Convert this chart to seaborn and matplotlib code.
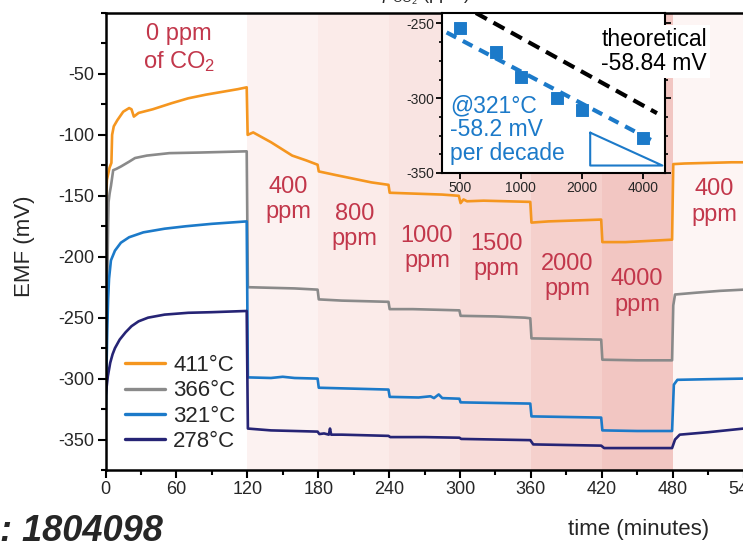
import numpy as np
import pandas as pd
import matplotlib
matplotlib.use("Agg")
import matplotlib.pyplot as plt
import seaborn as sns
from matplotlib.ticker import MultipleLocator, FixedLocator, NullLocator, NullFormatter

# EMF traces: (time in minutes, EMF in mV)
trace_411 = [(0, -235), (0.3, -175), (0.6, -150), (1.2, -137), (3.4, -127), (5, -123), (5.6, -100),
             (7, -93), (10, -88), (15, -81), (20, -78), (22, -79), (24, -85), (28, -82), (40, -79),
             (56, -74), (70, -70), (85, -67), (100, -64.5), (112, -62.5), (119.5, -61),
             (120.3, -100), (125, -98), (140, -106), (158, -117), (170, -121), (179.5, -124.5),
             (180.5, -130), (195, -133), (210, -136), (225, -139), (239.5, -141), (240.5, -147.5),
             (255, -148), (270, -148.5), (285, -149), (299, -150), (300.5, -156), (303, -153),
             (306, -154.5), (320, -154), (340, -154.5), (359.5, -155), (360.5, -172), (375, -171),
             (390, -170.5), (405, -170), (419.5, -169.5), (420.5, -188), (440, -188), (460, -187),
             (479.5, -186), (480.5, -124), (490, -123.5), (510, -123), (530, -122.5), (560, -122.5)]
trace_366 = [(0, -310), (0.5, -285), (1, -255), (1.6, -215), (2.2, -175), (2.6, -155), (3.5, -148),
             (4.6, -142), (6.5, -129), (9, -128), (13, -126), (20, -122), (25, -119), (35, -117),
             (54, -115), (80, -114.5), (100, -114), (119.5, -113.5),
             (120.5, -225), (140, -225.5), (160, -226), (179.5, -227), (180.5, -235), (200, -236),
             (220, -236.5), (239.5, -237), (240.5, -243), (260, -243), (280, -243.5), (299.5, -244),
             (300.5, -248.5), (330, -249), (355, -250), (359.5, -250.5), (360.5, -267), (390, -267.5),
             (419.5, -268), (420.5, -284.5), (450, -285), (479.5, -285), (480.5, -240), (482, -231),
             (500, -229.5), (520, -228), (540, -227), (560, -227)]
trace_321 = [(0, -343), (0.4, -320), (0.9, -290), (1.5, -260), (2.2, -235), (3, -218), (4.6, -203),
             (8, -195), (13, -188.5), (20, -184), (32, -180), (50, -177), (68, -175), (90, -173),
             (119.5, -171),
             (120.5, -299), (140, -299.5), (150, -298.5), (160, -299.5), (179.5, -300), (180.5, -307.5),
             (200, -308), (220, -308.5), (239.5, -309), (240.5, -315), (265, -315.5), (275, -314.5),
             (278, -316), (282, -313), (285, -316), (299.5, -316.5), (300.5, -319.5), (330, -320),
             (359.5, -320.5), (360.5, -331), (390, -331.5), (419.5, -332), (420.5, -342.5), (450, -343),
             (479.5, -343), (481, -305), (484, -301), (510, -300.5), (540, -300), (560, -300)]
trace_278 = [(0, -315), (2, -298), (4, -287), (6, -280), (8, -275), (12, -268), (17, -262), (22, -257),
             (28, -253), (36, -250), (50, -247.5), (70, -246), (90, -245.5), (119.5, -244.5),
             (120.5, -341), (140, -342.5), (160, -343), (179.5, -343.5), (181, -345.5), (185, -345),
             (189, -346), (190, -341), (191, -346), (200, -346), (220, -346.5), (239.5, -347),
             (241, -348), (270, -348), (299.5, -348.5), (301, -349.5), (330, -350), (359.5, -350.5),
             (362, -354), (390, -354.5), (419.5, -355), (422, -357), (450, -357), (479.5, -357),
             (482, -350), (486, -346), (510, -344), (540, -341), (560, -340)]

temps = ["411°C", "366°C", "321°C", "278°C"]
traces = [trace_411, trace_366, trace_321, trace_278]
line_colors = ["#f5961f", "#8a8a8a", "#1c7ac9", "#262475"]

# CO2 steps
step_edges = [120, 180, 240, 300, 360, 420, 480, 560]
step_shades = ["#fcf2f1", "#fbebe9", "#f9e4e2", "#f8dcd9", "#f5d0cc", "#f2c6c2", "#fdf5f4"]
step_labels = ["0 ppm\nof CO$_2$", "400\nppm", "800\nppm", "1000\nppm", "1500\nppm",
               "2000\nppm", "4000\nppm", "400\nppm"]
label_t = [62, 155, 211, 272, 331, 391, 450, 515]
label_v = [-29, -153, -175, -193, -200, -216, -229, -155]

# inset: EMF vs pCO2 at 321 C
pco2 = [500, 750, 1000, 1500, 2000, 4000]
emf_321 = [-253, -269, -285.5, -300, -308, -326.5]
fit_x = [430, 4700]
fit_y = [-256, -330]
theo_x = [600, 4700]
theo_y = [-243, -310]
tri_x = [2200, 2200, 5000, 2200]
tri_y = [-323, -345, -345, -323]

sns.set_style("ticks")
plt.rcParams["font.family"] = "Liberation Sans"
plt.rcParams["axes.unicode_minus"] = False
plt.rcParams["mathtext.fontset"] = "custom"
plt.rcParams["mathtext.rm"] = "Liberation Sans"
plt.rcParams["mathtext.it"] = "Liberation Sans:italic"

rows = []
for name, tr in zip(temps, traces):
    for t, v in tr:
        rows.append((name, t, v))
df = pd.DataFrame(rows, columns=["temp", "time", "emf"])

fig = plt.figure(figsize=(7.43, 5.43), dpi=100)
ax = fig.add_axes([105.5 / 743, 73 / 543, 661.7 / 743, 457 / 543])

for i in range(len(step_shades)):
    ax.axvspan(step_edges[i], step_edges[i + 1], color=step_shades[i], lw=0, zorder=0)

sns.lineplot(data=df, x="time", y="emf", hue="temp", hue_order=temps,
             palette=dict(zip(temps, line_colors)), estimator=None, sort=False,
             lw=1.9, ax=ax, zorder=3)

for txt, t, v in zip(step_labels, label_t, label_v):
    ax.text(t, v, txt, color="#c2374b", fontsize=17, ha="center", va="center")

ax.set_xlim(0, 560)
ax.set_ylim(-375, 0)
ax.xaxis.set_major_locator(MultipleLocator(60))
ax.xaxis.set_minor_locator(MultipleLocator(30))
ax.yaxis.set_major_locator(FixedLocator([-50, -100, -150, -200, -250, -300, -350]))
ax.yaxis.set_minor_locator(MultipleLocator(25))
ax.tick_params(which="major", direction="out", length=6, width=1.5, labelsize=13, pad=2, color="black")
ax.tick_params(which="minor", direction="out", length=3.5, width=1.5, color="black")
for s in ax.spines.values():
    s.set_visible(True)
    s.set_linewidth(1.8)
    s.set_color("black")
    s.set_zorder(5)
ax.set_xlabel("time (minutes)", fontsize=16)
ax.set_ylabel("EMF (mV)", fontsize=16)
ax.xaxis.set_label_coords(0.805, -0.108)
ax.yaxis.set_label_coords(-0.107, 0.49)

h, l = ax.get_legend_handles_labels()
ax.legend(h, l, loc="upper left", bbox_to_anchor=(0.0295, 0.252), frameon=False,
          fontsize=16, handlelength=1.8, handletextpad=0.36, labelspacing=0.2,
          borderpad=0, borderaxespad=0)
for line in ax.get_legend().get_lines():
    line.set_linewidth(2.4)

# inset
ax_in = fig.add_axes([442 / 743, 370 / 543, 223 / 743, 160 / 543])
ax_in.set_facecolor("white")
sns.lineplot(x=theo_x, y=theo_y, color="black", lw=3, linestyle=(0, (3, 1.8)), ax=ax_in)
sns.lineplot(x=fit_x, y=fit_y, color="#1c7ac9", lw=3, linestyle=(0, (2.6, 1.8)), ax=ax_in)
sns.scatterplot(x=pco2, y=emf_321, marker="s", s=70, color="#1c7ac9", edgecolor="#1c7ac9", ax=ax_in, zorder=4)
sns.lineplot(x=tri_x, y=tri_y, color="#1c7ac9", lw=1.5, sort=False, estimator=None, ax=ax_in)
ax_in.set_xscale("log")
ax_in.set_xlim(408, 5150)
ax_in.set_ylim(-350, -243)
ax_in.xaxis.set_major_locator(FixedLocator([500, 1000, 2000, 4000]))
ax_in.xaxis.set_major_formatter(matplotlib.ticker.FixedFormatter(["500", "1000", "2000", "4000"]))
ax_in.xaxis.set_minor_locator(NullLocator())
ax_in.xaxis.set_minor_formatter(NullFormatter())
ax_in.yaxis.set_major_locator(FixedLocator([-250, -300, -350]))
ax_in.yaxis.set_minor_locator(MultipleLocator(12.5))
ax_in.tick_params(which="major", direction="out", length=4, width=1.3, labelsize=10, pad=1.5,
                  right=True, color="black")
ax_in.tick_params(which="minor", direction="out", length=2.5, width=1.2, right=True, color="black")
for s in ax_in.spines.values():
    s.set_visible(True)
    s.set_linewidth(1.5)
    s.set_color("black")
ax_in.set_xlabel("")
ax_in.set_ylabel("")
ax_in.text(0.036, 0.27, "@321°C\n-58.2 mV\nper decade", transform=ax_in.transAxes, color="#1c7ac9",
           fontsize=16.5, ha="left", va="center", linespacing=1.05)
ax_in.text(0.715, 0.76, "theoretical\n-58.84 mV", transform=ax_in.transAxes, color="black",
           fontsize=16.5, ha="left", va="center", linespacing=1.1,
           bbox=dict(facecolor="white", edgecolor="none", pad=2))

# cropped fragments around the figure
fig.text(470 / 743, 1.0, r"$p_{\mathrm{CO_2}}$ (ppm)", ha="right", va="baseline", fontsize=13)
fig.text(0.0, 2 / 543, ": 1804098", ha="left", va="baseline", fontsize=26,
         fontweight="bold", fontstyle="italic")

fig.savefig("out.png", dpi=100)
